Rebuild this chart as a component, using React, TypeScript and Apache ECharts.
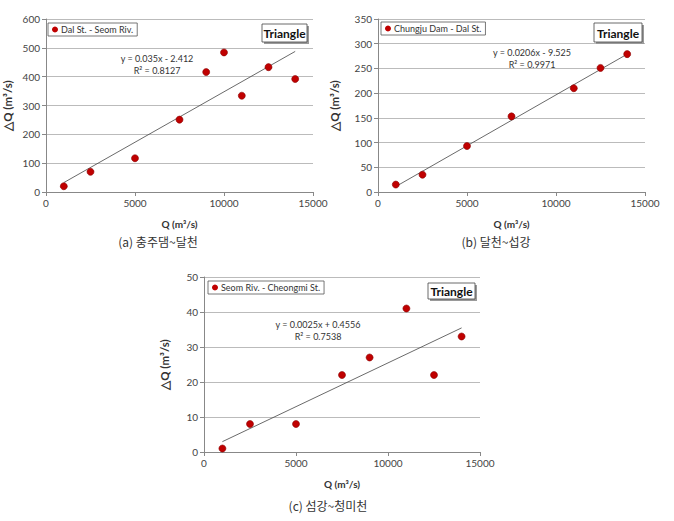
import React, { useEffect, useRef } from "react";
import * as echarts from "echarts";

const qA = [1000, 2500, 5000, 7500, 9000, 10000, 11000, 12500, 14000];
const dqA = [20, 70, 117, 251, 416, 484, 334, 433, 392];
const qB = [1000, 2500, 5000, 7500, 11000, 12500, 14000];
const dqB = [15, 35, 93, 153, 210, 251, 279];
const qC = [1000, 2500, 5000, 7500, 9000, 11000, 12500, 14000];
const dqC = [1, 8, 8, 22, 27, 41, 22, 33];

const seriesNames = ["Dal St. - Seom Riv.", "Chungju Dam - Dal St.", "Seom Riv. - Cheongmi St."];
const slopes = [0.035, 0.0206, 0.0025];
const intercepts = [-2.412, -9.525, 0.4556];
const eqTexts = ["y = 0.035x - 2.412", "y = 0.0206x - 9.525", "y = 0.0025x + 0.4556"];
const r2Texts = ["R² = 0.8127", "R² = 0.9971", "R² = 0.7538"];
const yMax = [600, 350, 50];
const yInterval = [100, 50, 10];
const captions = ["(a) 충주댐~달천", "(b) 달천~섭강", "(c) 섬강~청미천"];

const FONT = "Lato, 'Noto Sans', sans-serif";
const grids = [
  { left: 43, top: 19, width: 270, height: 173 },
  { left: 378, top: 19, width: 267, height: 173 },
  { left: 204, top: 277, width: 276, height: 175 },
];

export default function App() {
  const ref = useRef<HTMLDivElement>(null);
  useEffect(() => {
    if (!ref.current) return;
    const chart = echarts.init(ref.current, null, { renderer: "svg" });
    const xs = [qA, qB, qC];
    const ys = [dqA, dqB, dqC];
    const yGaps = [33, 38, 34];

    const xAxis = grids.map((_, i) => ({
      type: "value",
      gridIndex: i,
      min: 0,
      max: 15000,
      interval: 5000,
      name: "Q (m³/s)",
      nameLocation: "middle",
      nameGap: 27,
      nameTextStyle: { fontFamily: FONT, fontSize: 10, fontWeight: "bold", color: "#333" },
      axisLine: { show: true, lineStyle: { color: "#888", width: 1 } },
      axisTick: { show: true, length: 4, lineStyle: { color: "#888" } },
      axisLabel: { fontFamily: FONT, fontSize: 10, color: "#444", margin: 6, formatter: (v: number) => String(v) },
      splitLine: { show: false },
    }));
    const yAxis = grids.map((_, i) => ({
      type: "value",
      gridIndex: i,
      min: 0,
      max: yMax[i],
      interval: yInterval[i],
      name: "△Q (m³/s)",
      nameLocation: "middle",
      nameGap: yGaps[i],
      nameTextStyle: { fontFamily: FONT, fontSize: 11.5, fontWeight: "bold", color: "#333" },
      axisLine: { show: true, lineStyle: { color: "#888", width: 1 } },
      axisTick: { show: true, length: 4, lineStyle: { color: "#888" } },
      axisLabel: { fontFamily: FONT, fontSize: 10, color: "#444", margin: 6, formatter: (v: number) => String(v) },
      splitLine: { show: true, lineStyle: { color: "#bbb", width: 1 } },
    }));

    const series: any[] = [];
    grids.forEach((_, i) => {
      const x0 = xs[i][0];
      const x1 = xs[i][xs[i].length - 1];
      series.push({
        type: "line",
        xAxisIndex: i,
        yAxisIndex: i,
        data: [
          [x0, slopes[i] * x0 + intercepts[i]],
          [x1, slopes[i] * x1 + intercepts[i]],
        ],
        showSymbol: false,
        symbol: "none",
        lineStyle: { color: "#444", width: 0.8 },
        silent: true,
        z: 1,
      });
      series.push({
        type: "scatter",
        name: seriesNames[i],
        xAxisIndex: i,
        yAxisIndex: i,
        data: xs[i].map((x, k) => [x, ys[i][k]]),
        symbolSize: 7,
        itemStyle: { color: "#C00000", borderColor: "#8a0000", borderWidth: 0.6, opacity: 1 },
        z: 3,
      });
    });

    const legendPos = [
      { left: 48, top: 23 },
      { left: 381, top: 22 },
      { left: 208, top: 281 },
    ];
    const legend = legendPos.map((p, i) => ({
      data: [seriesNames[i]],
      left: p.left,
      top: p.top,
      orient: "horizontal",
      icon: "circle",
      itemWidth: 6,
      itemHeight: 6,
      itemGap: 4,
      padding: [2, 4, 2, 4],
      borderColor: "#555",
      borderWidth: 0.8,
      backgroundColor: "#fff",
      itemStyle: { borderWidth: 0 },
      textStyle: { fontFamily: FONT, fontSize: 9, color: "#333", padding: [0, 0, 0, -2] },
      selectedMode: false,
    }));

    const triBoxes = [
      { x: 262, y: 24, w: 45, h: 18 },
      { x: 594, y: 23, w: 48, h: 19 },
      { x: 428, y: 283, w: 47, h: 16 },
    ];
    const eqPos = [
      { x: 157, y: 58 },
      { x: 532, y: 52 },
      { x: 318, y: 324 },
    ];
    const capPos = [
      { x: 158, y: 241 },
      { x: 496, y: 241 },
      { x: 328, y: 505 },
    ];

    const graphic: any[] = [];
    triBoxes.forEach((b) => {
      graphic.push({
        type: "rect",
        shape: { x: b.x + 2, y: b.y + 2, width: b.w, height: b.h },
        style: { fill: "#9a9a9a" },
        z: 10,
      });
      graphic.push({
        type: "rect",
        shape: { x: b.x, y: b.y, width: b.w, height: b.h },
        style: { fill: "#fff", stroke: "#444", lineWidth: 0.8 },
        z: 11,
      });
      graphic.push({
        type: "text",
        x: b.x + b.w / 2,
        y: b.y + b.h / 2 + 0.5,
        style: {
          text: "Triangle",
          fontFamily: FONT,
          fontSize: 12,
          fontWeight: "bold",
          fill: "#111",
          textAlign: "center",
          textVerticalAlign: "middle",
        },
        z: 12,
      });
    });
    eqPos.forEach((p, i) => {
      graphic.push({
        type: "text",
        x: p.x,
        y: p.y,
        style: { text: eqTexts[i], fontFamily: FONT, fontSize: 9, fill: "#333", textAlign: "center", textVerticalAlign: "middle" },
        z: 12,
      });
      graphic.push({
        type: "text",
        x: p.x,
        y: p.y + 12,
        style: { text: r2Texts[i], fontFamily: FONT, fontSize: 9, fill: "#333", textAlign: "center", textVerticalAlign: "middle" },
        z: 12,
      });
    });
    capPos.forEach((p, i) => {
      graphic.push({
        type: "text",
        x: p.x,
        y: p.y,
        style: {
          text: captions[i],
          fontFamily: "'Noto Sans CJK KR', sans-serif",
          fontSize: 12,
          fill: "#333",
          textAlign: "center",
          textVerticalAlign: "middle",
        },
        z: 12,
      });
    });

    chart.setOption({
      animation: false,
      backgroundColor: "#fff",
      grid: grids.map((g) => ({ ...g, containLabel: false })),
      xAxis,
      yAxis,
      series,
      legend,
      graphic,
    });
    return () => chart.dispose();
  }, []);
  return (
    <div
      ref={ref}
      style={{ position: "fixed", left: 0, top: 0, width: 674, height: 521, background: "#fff" }}
    />
  );
}
